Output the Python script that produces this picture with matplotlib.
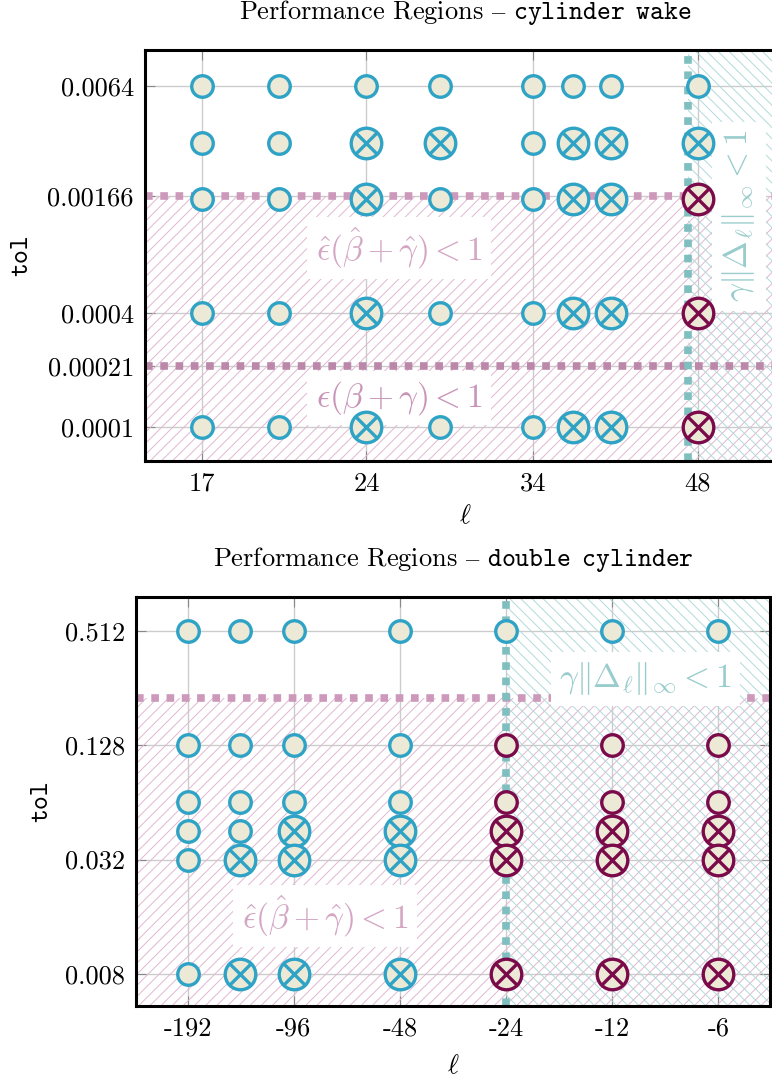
import numpy as np
import matplotlib
matplotlib.use("Agg")
import matplotlib.pyplot as plt

plt.rcParams['font.family'] = ['cmr10', 'DejaVu Serif']
plt.rcParams['mathtext.fontset'] = 'cm'
plt.rcParams['axes.unicode_minus'] = False
plt.rcParams['axes.formatter.use_mathtext'] = True
plt.rcParams['hatch.linewidth'] = 0.7

# --- data: cylinder wake ---
wake_ell = [17, 20, 24, 28, 34, 37, 40, 48]
wake_tol = [0.0064, 0.0032, 0.0016, 0.0004, 0.0001]
# o: small blue, X: large blue with cross, M: large magenta with cross, m: small magenta
wake_codes = [
    "oooooooo",
    "ooXXoXXX",
    "ooXooXXM",
    "ooXooXXM",
    "ooXooXXM",
]
wake_xticks = [17, 24, 34, 48]
wake_yticks = [0.0001, 0.00021, 0.0004, 0.00166, 0.0064]
wake_ytlabels = ["0.0001", "0.00021", "0.0004", "0.00166", "0.0064"]
wake_thr_hat = 0.00166
wake_thr = 0.00021
wake_ell_thr = 47

# --- data: double cylinder ---
dc_ell = [-192, -136, -96, -48, -24, -12, -6]
dc_tol = [0.512, 0.128, 0.064, 0.045, 0.032, 0.008]
dc_codes = [
    "ooooooo",
    "oooommm",
    "oooommm",
    "ooXXMMM",
    "oXXXMMM",
    "oXXXMMM",
]
dc_xticks = [-192, -96, -48, -24, -12, -6]
dc_yticks = [0.008, 0.032, 0.128, 0.512]
dc_ytlabels = ["0.008", "0.032", "0.128", "0.512"]
dc_thr_hat = 0.226
dc_ell_thr = -24

BLUE = '#2ea3c5'
MAG = '#7a0a4a'
FILL = '#ece9d6'
PINK = '#e0b8d2'
PINK_LINE = '#cc99bb'
PINK_LINE2 = '#bb88aa'
TEAL = '#b2dada'
TEAL_LINE = '#7fbfbf'
FS = 19
AFS = 24

fig = plt.figure(figsize=(7.72, 10.78), dpi=100)
ax1 = fig.add_axes([145/772, 1-461/1078, 640/772, 411/1078])
ax2 = fig.add_axes([136/772, 1-1006/1078, 634/772, 409/1078])


def draw_points(ax, ells, tols, codes):
    for r, t in enumerate(tols):
        for c, l in enumerate(ells):
            code = codes[r][c]
            col = BLUE if code in "oX" else MAG
            big = code in "XM"
            ms = 22 if big else 15.5
            ax.plot(l, t, 'o', ms=ms, mfc=FILL, mec=col, mew=2.4, zorder=5)
            if big:
                ax.plot(l, t, 'x', ms=15.5, mec=col, mew=2.4, zorder=5)


def style(ax):
    ax.grid(True, color='#cccccc', lw=1, zorder=0)
    ax.set_axisbelow(True)
    ax.tick_params(direction='in', length=7, color='#888888', labelsize=FS,
                   top=True, right=True, pad=8)
    ax.minorticks_off()
    for s in ax.spines.values():
        s.set_linewidth(2.2)
        s.set_color('black')
        s.set_zorder(10)


box = dict(facecolor='white', edgecolor='none', pad=6)
dash = r'$\mathrm{–}$'

# ---------- top: cylinder wake ----------
ax1.set_xscale('log', base=2)
ax1.set_yscale('log', base=2)
ax1.set_xlim(15.1, 57.6)
ax1.set_ylim(6.6e-5, 0.0099)
ax1.axhspan(6e-5, wake_thr_hat, facecolor='none', edgecolor=PINK, hatch='///', lw=0, zorder=1)
ax1.axvspan(wake_ell_thr, 100, facecolor='none', edgecolor=TEAL, hatch='\\\\\\', lw=0, zorder=1)
ax1.axhline(wake_thr_hat, color=PINK_LINE, lw=5.5, ls=(0, (1, 1)), zorder=3)
ax1.axhline(wake_thr, color=PINK_LINE2, lw=5.5, ls=(0, (1, 1)), zorder=3)
ax1.axvline(wake_ell_thr, color=TEAL_LINE, lw=5.5, ls=(0, (1, 1)), zorder=3)
draw_points(ax1, wake_ell, wake_tol, wake_codes)
ax1.set_xticks(wake_xticks, [str(v) for v in wake_xticks])
ax1.set_yticks(wake_yticks, wake_ytlabels)
style(ax1)
ax1.text(0.397, 0.518, r'$\hat{\epsilon}(\hat{\beta}+\hat{\gamma})<1$', transform=ax1.transAxes,
         fontsize=AFS, color='#d4a6c4', ha='center', va='center', bbox=box, zorder=4)
ax1.text(0.397, 0.153, r'$\epsilon(\beta+\gamma)<1$', transform=ax1.transAxes,
         fontsize=AFS, color='#c894b8', ha='center', va='center', bbox=box, zorder=4)
ax1.text(0.928, 0.596, r'$\gamma\Vert\Delta_\ell\Vert_\infty<1$', transform=ax1.transAxes,
         fontsize=AFS, color='#99cccc', ha='center', va='center', rotation=90, bbox=box, zorder=4)
ax1.set_xlabel(r'$\ell$', fontsize=FS, labelpad=6)
ax1.set_ylabel('tol', fontsize=FS, family='cmtt10', labelpad=10)
ax1.set_title('Performance Regions ' + dash + r' $\mathtt{cylinder}\ \,\mathtt{wake}$', fontsize=FS, pad=22)

# ---------- bottom: double cylinder ----------
ax2.set_xscale('function', functions=(lambda x: -np.log2(np.abs(x)), lambda x: -2.0**(-x)))
ax2.set_yscale('log', base=2)
ax2.set_xlim(-269, -4.28)
ax2.set_ylim(0.00542, 0.773)
ax2.axhspan(0.004, dc_thr_hat, facecolor='none', edgecolor=PINK, hatch='///', lw=0, zorder=1)
ax2.axvspan(dc_ell_thr, -1, facecolor='none', edgecolor=TEAL, hatch='\\\\\\', lw=0, zorder=1)
ax2.axhline(dc_thr_hat, color=PINK_LINE, lw=5.5, ls=(0, (1, 1)), zorder=3)
ax2.axvline(dc_ell_thr, color=TEAL_LINE, lw=5.5, ls=(0, (1, 1)), zorder=3)
draw_points(ax2, dc_ell, dc_tol, dc_codes)
ax2.set_xticks(dc_xticks, [str(v) for v in dc_xticks])
ax2.set_yticks(dc_yticks, dc_ytlabels)
style(ax2)
ax2.text(0.803, 0.80, r'$\gamma\Vert\Delta_\ell\Vert_\infty<1$', transform=ax2.transAxes,
         fontsize=AFS, color='#99cccc', ha='center', va='center', bbox=box, zorder=4)
ax2.text(0.298, 0.22, r'$\hat{\epsilon}(\hat{\beta}+\hat{\gamma})<1$', transform=ax2.transAxes,
         fontsize=AFS, color='#d4a6c4', ha='center', va='center', bbox=box, zorder=4)
ax2.set_xlabel(r'$\ell$', fontsize=FS, labelpad=10)
ax2.set_ylabel('tol', fontsize=FS, family='cmtt10', labelpad=8)
ax2.set_title('Performance Regions ' + dash + r' $\mathtt{double}\ \,\mathtt{cylinder}$', fontsize=FS, pad=22)

fig.savefig('out.png', dpi=100)
